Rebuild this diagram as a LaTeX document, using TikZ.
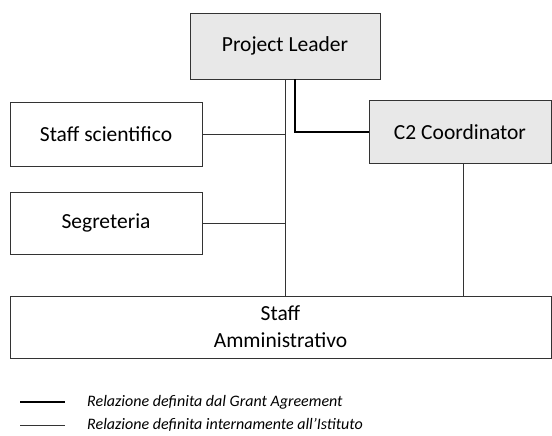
\documentclass[tikz,border=0pt]{standalone}
\usepackage{fontspec}
\setmainfont{Carlito}
\usepackage{tikz}
\usetikzlibrary{calc,positioning}
\tikzset{
	box/.style={draw=black!80,line width=0.8pt,inner sep=0pt,font=\fontsize{21.5}{26}\selectfont,align=center},
	shaded/.style={box,fill=black!9},
	rel/.style={draw=black!80,line width=0.8pt},
	ga/.style={draw=black,line width=2.2pt},
	leg/.style={anchor=west,inner sep=0pt,font=\fontsize{16}{18}\selectfont\itshape}
}

\begin{document}
\begin{tikzpicture}[x=1pt,y=-1pt]
		\useasboundingbox (0,0) rectangle (552,436);
		\node[shaded,minimum width=190,minimum height=66] (leader) at (285,46) {Project Leader};
		\node[box,minimum width=192,minimum height=64] (scient) at (106,134) {Staff scientifico};
		\node[box,minimum width=192,minimum height=62] (segr) at (106,223) {Segreteria};
		\node[shaded,minimum width=182,minimum height=63] (coord) at (460,132) {C2 Coordinator};
		\node[box,minimum width=541,minimum height=62] (ammin) at (280.5,327) {Staff\\[1pt]Amministrativo};
		\draw[rel] (leader.south) -- (leader.south |- ammin.north);
		\draw[rel] (scient.east) -- (scient.east -| leader.south);
		\draw[rel] (segr.east) -- (segr.east -| leader.south);
		\draw[rel] ([xshift=3pt]coord.south) -- ([xshift=3pt]coord.south |- ammin.north);
		\draw[ga] ([xshift=10pt]leader.south) |- (coord.west);
		\node[leg] (galabel) at (87,402) {Relazione definita dal Grant Agreement};
		\node[leg] (rellabel) at (87,425) {Relazione definita internamente all’Istituto};
		\coordinate (gastart) at (20,402);
		\coordinate (relstart) at (20,425);
		\draw[ga,line width=1.8pt] (gastart) -- ++(45,0);
		\draw[rel] (relstart) -- ++(45,0);
\end{tikzpicture}
\end{document}
